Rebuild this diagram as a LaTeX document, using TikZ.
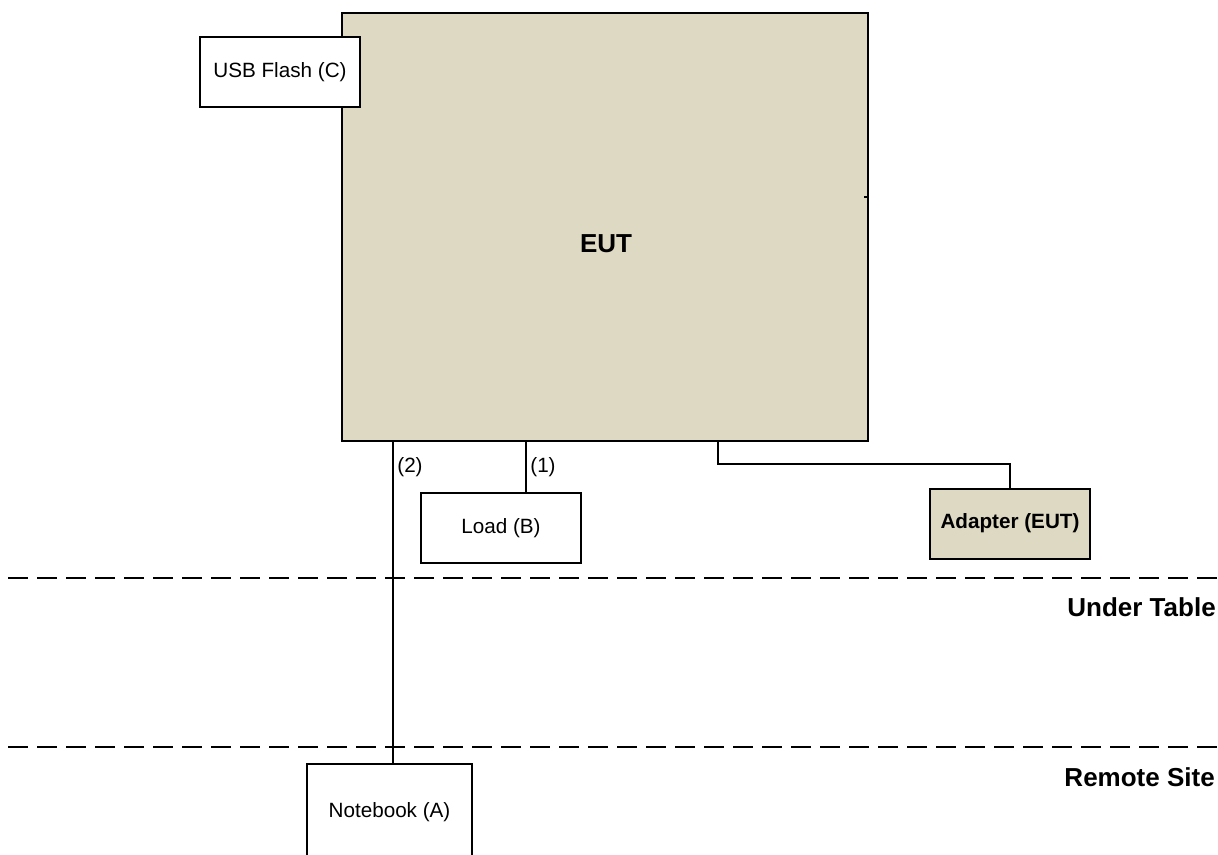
\documentclass[tikz,border=0pt]{standalone}
\usepackage{fontspec}
\setmainfont{Liberation Sans}
\definecolor{euttan}{RGB}{221,217,195}
\tikzset{
	unitbox/.style={draw, line width=1.5pt, fill=white, inner sep=0pt,
		minimum width=120pt, minimum height=52.5pt, font=\fontsize{15.5}{18}\selectfont},
	wire/.style={line width=1.2pt},
	zone/.style={line width=1.5pt, dash pattern=on 15pt off 6.75pt},
	bigtxt/.style={font=\fontsize{19.5}{22}\selectfont\bfseries, inner sep=0pt},
	smalltxt/.style={font=\fontsize{15.5}{18}\selectfont, inner sep=0pt}
}
\begin{document}
\begin{tikzpicture}[x=0.75pt, y=-0.75pt]
	\useasboundingbox (0,0) rectangle (1218,854);
	\clip (0,0) rectangle (1218,854);

	% main unit
	\node[draw, line width=1.5pt, fill=euttan, minimum width=394.5pt, minimum height=321pt] (eut) at (605,227) {};
	\node[bigtxt] (eutlabel) at (606,244) {EUT};
	\coordinate (tick) at (868,197);
	\draw[wire] (tick) -- ++(-4,0);

	% peripherals
	\node[unitbox] (usb) at (280,72) {USB Flash (C)};
	\node[unitbox] (load) at (501,528) {Load (B)};
	\node[unitbox, fill=euttan, font=\fontsize{15.5}{18}\selectfont\bfseries] (adapter) at (1010,523.5) {Adapter (EUT)};
	\node[unitbox, minimum width=123.75pt, minimum height=72pt] (notebook) at (389.5,812) {Notebook (A)};

	% cables
	\coordinate (p2) at (393,441);
	\coordinate (p1) at (526,441);
	\coordinate (p3) at (718,441);
	\draw[line width=2.2pt] (p2) -- (p2 |- notebook.north);
	\draw[wire] (p1) -- (p1 |- load.north);
	\draw[wire] (p3) -- ++(0,23) -| (adapter.north);
	\node[smalltxt] (c2) at (410,467) {(2)};
	\node[smalltxt] (c1) at (543,467) {(1)};

	% zones
	\draw[zone] (8,578) -- (1218,578);
	\draw[zone] (8,747) -- (1218,747);
	\node[bigtxt, anchor=east] (undertable) at (1216,607) {Under Table};
	\node[bigtxt, anchor=east] (remotesite) at (1215,777) {Remote Site};

\end{tikzpicture}
\end{document}
